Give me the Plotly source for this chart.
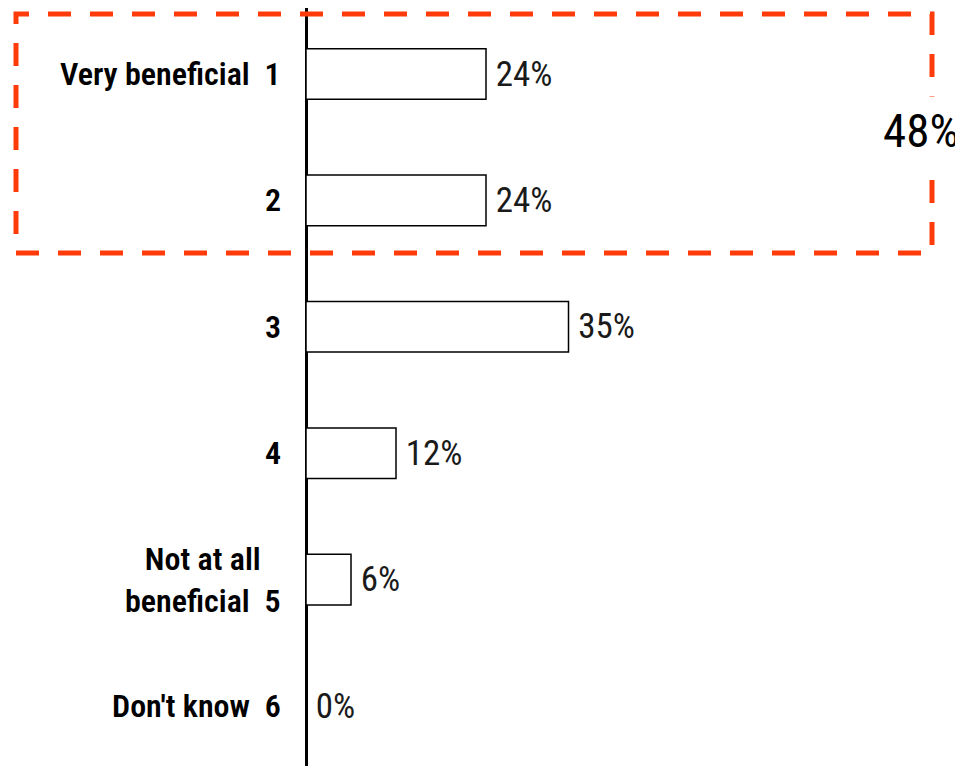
import plotly.graph_objects as go

categories = ["Very beneficial&nbsp;&nbsp;1", "2", "3", "4", "Not at all<br>beneficial&nbsp;&nbsp;5", "Don't know&nbsp;&nbsp;6"]
values = [24, 24, 35, 12, 6, 0]
value_labels = ["24%", "24%", "35%", "12%", "6%", "0%"]
top_two_label = "48%"

FONT = "Roboto Condensed, Liberation Sans Narrow, Arial Narrow, sans-serif"
ids = list(range(len(categories)))

# page offset compensation (body margin 8px)
OFF = 8
AX = 306 - OFF      # pixel of x=0
PXPCT = 7.5         # pixels per percent
ROW0 = 74 - OFF
ROWH = 126.4

fig = go.Figure()
fig.add_trace(go.Bar(
    x=values, y=ids, orientation="h",
    marker=dict(color="white", line=dict(color="black", width=1.5)),
    text=["\u2009" + t for t in value_labels], textposition="outside", cliponaxis=False,
    textfont=dict(family=FONT, size=35, color="#1a1a1a"),
    width=0.4,
))

for i, lab in enumerate(categories):
    fig.add_annotation(x=-23 / PXPCT, y=i, xref="x", yref="y", text=lab, showarrow=False,
                       xanchor="right", yanchor="middle", align="center",
                       font=dict(family=FONT, size=32, color="black", weight=600))

fig.add_shape(type="rect", xref="paper", yref="paper",
              x0=(16 - OFF) / 963, x1=(932 - OFF) / 963, y0=1 - (253 - OFF) / 766, y1=1 - (14 - OFF) / 766,
              line=dict(color="#FF3B0A", width=5, dash="23px,19px"))
fig.add_annotation(x=(966 - OFF) / 963, y=1 - (131 - OFF) / 766, xref="paper", yref="paper", text=top_two_label,
                   showarrow=False, xanchor="right", yanchor="middle", bgcolor="white", borderpad=6,
                   font=dict(family=FONT, size=47, color="black", weight=400))

fig.update_layout(
    width=963, height=766, margin=dict(l=0, r=0, t=0, b=0),
    plot_bgcolor="white", paper_bgcolor="white", showlegend=False,
    xaxis=dict(range=[-AX / PXPCT, (963 - AX) / PXPCT], showgrid=False, showticklabels=False,
               zeroline=True, zerolinecolor="black", zerolinewidth=3, ticks=""),
    yaxis=dict(range=[(766 - ROW0) / ROWH, -ROW0 / ROWH], showgrid=False, showticklabels=False,
               zeroline=False, ticks=""),
)
fig.write_html("out.html")
